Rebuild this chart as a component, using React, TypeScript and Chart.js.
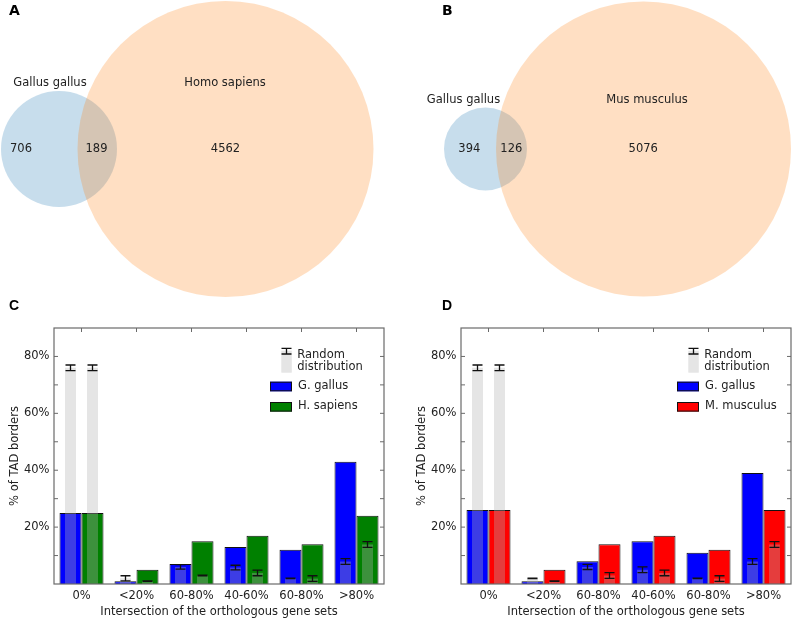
import React, { useEffect, useRef } from 'react';
import { Chart, registerables } from 'chart.js';
Chart.register(...registerables);

const FONT = "'DejaVu Sans', sans-serif";
const TEXT = '#222';

// ---------- Venn data ----------
const vennASets = ['Gallus gallus', 'Homo sapiens'];
const vennACounts = [706, 189, 4562];
const vennBSets = ['Gallus gallus', 'Mus musculus'];
const vennBCounts = [394, 126, 5076];

// ---------- Bar data ----------
const categories = ['0%', '<20%', '60-80%', '40-60%', '60-80%', '>80%'];
const yTickLabels = [20, 40, 60, 80];

const galC = [25, 1, 7, 13, 12, 43];
const sapC = [25, 5, 15, 17, 14, 24];
const galCRand = [76, 2, 6, 5.8, 2, 7.9];
const galCRandErr = [1, 0.9, 0.8, 0.8, 0.1, 1];
const sapCRand = [76, 1, 3, 3.9, 1.9, 13.9];
const sapCRandErr = [1, 0.1, 0.1, 1, 1, 1];

const galD = [26, 1, 8, 15, 11, 39];
const musD = [26, 5, 14, 17, 12, 26];
const galDRand = [76, 2, 6, 5, 2, 7.9];
const galDRandErr = [1, 0.1, 0.9, 1, 0.1, 1];
const musDRand = [76, 1, 3, 3.9, 1.9, 13.9];
const musDRandErr = [1, 0.1, 1, 1, 1, 1];

// ---------- Venn layouts (diagram geometry, canvas-local units) ----------
const vennALayout = {
  w: 395, h: 300,
  circles: [{ x: 59, y: 149, r: 58 }, { x: 225.5, y: 149, r: 148 }],
  setLabelPos: [{ x: 50, y: 83 }, { x: 225, y: 83 }],
  countPos: [{ x: 21, y: 149 }, { x: 96.5, y: 149 }, { x: 225.5, y: 149 }],
  letter: 'A', letterX: 9,
};
const vennBLayout = {
  w: 397, h: 300,
  circles: [{ x: 90.5, y: 149, r: 41.5 }, { x: 248.5, y: 149, r: 147.5 }],
  setLabelPos: [{ x: 68.5, y: 100 }, { x: 252, y: 100 }],
  countPos: [{ x: 74.3, y: 149 }, { x: 116.3, y: 149 }, { x: 248.2, y: 149 }],
  letter: 'B', letterX: 47,
};

function vennConfig(layout: any, sets: string[], counts: number[]): any {
  return {
    type: 'bubble',
    data: {
      datasets: [{
        data: layout.circles.map((c: any) => ({ x: c.x, y: c.y, r: c.r })),
        backgroundColor: ['rgba(31,119,180,0.25)', 'rgba(255,127,14,0.25)'],
        borderWidth: 0,
        hoverBorderWidth: 0,
        clip: false,
      }],
    },
    options: {
      animation: false, responsive: false, devicePixelRatio: 1, events: [],
      layout: { padding: 0, autoPadding: false },
      scales: {
        x: { type: 'linear', min: 0, max: layout.w, display: false },
        y: { type: 'linear', min: 0, max: layout.h, reverse: true, display: false },
      },
      plugins: { legend: { display: false }, tooltip: { enabled: false } },
    },
    plugins: [{
      id: 'vennText',
      afterDatasetsDraw(chart: any) {
        const { ctx, scales } = chart;
        const px = (p: any) => [scales.x.getPixelForValue(p.x), scales.y.getPixelForValue(p.y)];
        ctx.save();
        ctx.fillStyle = TEXT;
        ctx.font = `11.5px ${FONT}`;
        ctx.textAlign = 'center';
        ctx.textBaseline = 'middle';
        sets.forEach((s, i) => { const [x, y] = px(layout.setLabelPos[i]); ctx.fillText(s, x, y); });
        counts.forEach((c, i) => { const [x, y] = px(layout.countPos[i]); ctx.fillText(String(c), x, y); });
        ctx.fillStyle = '#000';
        ctx.font = `bold 14px ${FONT}`;
        ctx.textAlign = 'left';
        ctx.textBaseline = 'alphabetic';
        ctx.fillText(layout.letter, layout.letterX, 15);
        ctx.restore();
      },
    }],
  };
}

const RAND_FILL = 'rgba(178,178,178,0.34)';
const EDGE = '#111';
const FRAME = '#6a6a6a';

function barConfig(p: any): any {
  const common = { categoryPercentage: 0.8, grouped: true };
  return {
    type: 'bar',
    data: {
      labels: categories,
      datasets: [
        { label: 'rand1', data: p.rand1, backgroundColor: RAND_FILL, borderWidth: 0, barPercentage: 0.5, stack: 'a', ...common },
        { label: 'rand2', data: p.rand2, backgroundColor: RAND_FILL, borderWidth: 0, barPercentage: 0.5, stack: 'b', ...common },
        { label: p.name1, data: p.s1, backgroundColor: '#0000ff', borderColor: EDGE, borderWidth: 1, barPercentage: 1, stack: 'a', ...common },
        { label: p.name2, data: p.s2, backgroundColor: p.color2, borderColor: EDGE, borderWidth: 1, barPercentage: 1, stack: 'b', ...common },
      ],
    },
    options: {
      animation: false, responsive: false, devicePixelRatio: 1, events: [],
      layout: { padding: { left: 0, right: p.rightPad, top: 28, bottom: 0 } },
      scales: {
        x: {
          stacked: true,
          grid: { display: false, drawTicks: false },
          border: { display: false },
          ticks: { font: { family: FONT, size: 11.5 }, color: TEXT, padding: 5, autoSkip: false, maxRotation: 0 },
          title: { display: true, text: 'Intersection of the orthologous gene sets', font: { family: FONT, size: 11.5 }, color: TEXT, padding: { top: 0, bottom: 0 } },
          afterFit: (s: any) => { s.height = 35; },
        },
        y: {
          stacked: false,
          min: 0, max: 90,
          grid: { display: false, drawTicks: false },
          border: { display: false },
          ticks: {
            stepSize: 10, autoSkip: false, padding: 4.5,
            font: { family: FONT, size: 11.5 }, color: TEXT,
            callback: (v: any) => (yTickLabels.includes(v) ? `${v}%` : ''),
          },
          title: { display: true, text: '% of TAD borders', font: { family: FONT, size: 11.5 }, color: TEXT, padding: { top: p.titlePad, bottom: 0 } },
          afterFit: (s: any) => { s.width = p.yWidth; },
        },
      },
      plugins: { legend: { display: false }, tooltip: { enabled: false } },
    },
    plugins: [{
      id: 'extras',
      afterDatasetsDraw(chart: any) {
        const { ctx, chartArea: a, scales } = chart;
        const ys = scales.y, xs = scales.x;
        ctx.save();
        // error bars on random distributions
        ctx.strokeStyle = '#111';
        ctx.lineWidth = 1.3;
        [[0, p.rand1, p.err1], [1, p.rand2, p.err2]].forEach(([di, vals, errs]: any) => {
          const meta = chart.getDatasetMeta(di);
          meta.data.forEach((el: any, j: number) => {
            const x = el.x;
            const yt = ys.getPixelForValue(vals[j] + errs[j]);
            const yb = ys.getPixelForValue(vals[j] - errs[j]);
            ctx.beginPath();
            ctx.moveTo(x, yt); ctx.lineTo(x, yb);
            ctx.moveTo(x - 5, yt); ctx.lineTo(x + 5, yt);
            ctx.moveTo(x - 5, yb); ctx.lineTo(x + 5, yb);
            ctx.stroke();
          });
        });
        // frame
        ctx.strokeStyle = FRAME;
        ctx.lineWidth = 1.2;
        ctx.strokeRect(a.left, a.top, a.right - a.left, a.bottom - a.top);
        // inward ticks
        ctx.lineWidth = 1;
        ctx.beginPath();
        for (let v = 10; v < 90; v += 10) {
          const y = ys.getPixelForValue(v);
          ctx.moveTo(a.left, y); ctx.lineTo(a.left + 4, y);
          ctx.moveTo(a.right, y); ctx.lineTo(a.right - 4, y);
        }
        categories.forEach((_, i) => {
          const x = xs.getPixelForValue(i);
          ctx.moveTo(x, a.top); ctx.lineTo(x, a.top + 4);
        });
        ctx.stroke();
        // legend
        const L = a.left, T = a.top;
        ctx.fillStyle = RAND_FILL;
        ctx.fillRect(L + 227.3, T + 22.7, 10.5, 22);
        ctx.strokeStyle = '#111';
        ctx.lineWidth = 1.3;
        const cx = L + 232.5;
        ctx.beginPath();
        ctx.moveTo(cx, T + 20.3); ctx.lineTo(cx, T + 26);
        ctx.moveTo(cx - 5, T + 20.3); ctx.lineTo(cx + 5, T + 20.3);
        ctx.moveTo(cx - 5, T + 26); ctx.lineTo(cx + 5, T + 26);
        ctx.stroke();
        ctx.lineWidth = 1;
        ctx.fillStyle = '#0000ff';
        ctx.fillRect(L + 216, T + 53.7, 22, 9.6);
        ctx.strokeStyle = EDGE;
        ctx.strokeRect(L + 216.5, T + 54.2, 21, 8.6);
        ctx.fillStyle = p.color2;
        ctx.fillRect(L + 216, T + 74, 22, 9.6);
        ctx.strokeRect(L + 216.5, T + 74.5, 21, 8.6);
        ctx.fillStyle = TEXT;
        ctx.font = `11.5px ${FONT}`;
        ctx.textAlign = 'left';
        ctx.textBaseline = 'middle';
        ctx.fillText('Random', L + 243.3, T + 27);
        ctx.fillText('distribution', L + 243.3, T + 39.3);
        ctx.fillText(p.name1, L + 244, T + 58);
        ctx.fillText(p.name2, L + 244, T + 78.3);
        // panel letter
        ctx.fillStyle = '#000';
        ctx.font = `bold 14px 'Liberation Sans Narrow', 'Liberation Sans', sans-serif`;
        ctx.textBaseline = 'alphabetic';
        ctx.fillText(p.letter, p.letterX, 10);
        ctx.restore();
      },
    }],
  };
}

function ChartBox({ left, top, width, height, make }: any) {
  const ref = useRef<HTMLCanvasElement>(null);
  useEffect(() => {
    const chart = new Chart(ref.current as HTMLCanvasElement, make());
    return () => chart.destroy();
  }, []);
  return (
    <canvas ref={ref} width={width} height={height}
      style={{ position: 'absolute', left, top, width, height }} />
  );
}

export default function App() {
  return (
    <div style={{ position: 'absolute', left: 0, top: 0, width: 792, height: 619, background: '#fff', overflow: 'hidden' }}>
      <ChartBox left={0} top={0} width={395} height={300} make={() => vennConfig(vennALayout, vennASets, vennACounts)} />
      <ChartBox left={395} top={0} width={397} height={300} make={() => vennConfig(vennBLayout, vennBSets, vennBCounts)} />
      <ChartBox left={0} top={300} width={395} height={319} make={() => barConfig({
        s1: galC, s2: sapC, rand1: galCRand, err1: galCRandErr, rand2: sapCRand, err2: sapCRandErr,
        name1: 'G. gallus', name2: 'H. sapiens', color2: '#008000',
        yWidth: 54, rightPad: 11, titlePad: 8, letter: 'C', letterX: 9,
      })} />
      <ChartBox left={395} top={300} width={397} height={319} make={() => barConfig({
        s1: galD, s2: musD, rand1: galDRand, err1: galDRandErr, rand2: musDRand, err2: musDRandErr,
        name1: 'G. gallus', name2: 'M. musculus', color2: '#ff0000',
        yWidth: 66, rightPad: 1, titlePad: 20, letter: 'D', letterX: 47,
      })} />
    </div>
  );
}
